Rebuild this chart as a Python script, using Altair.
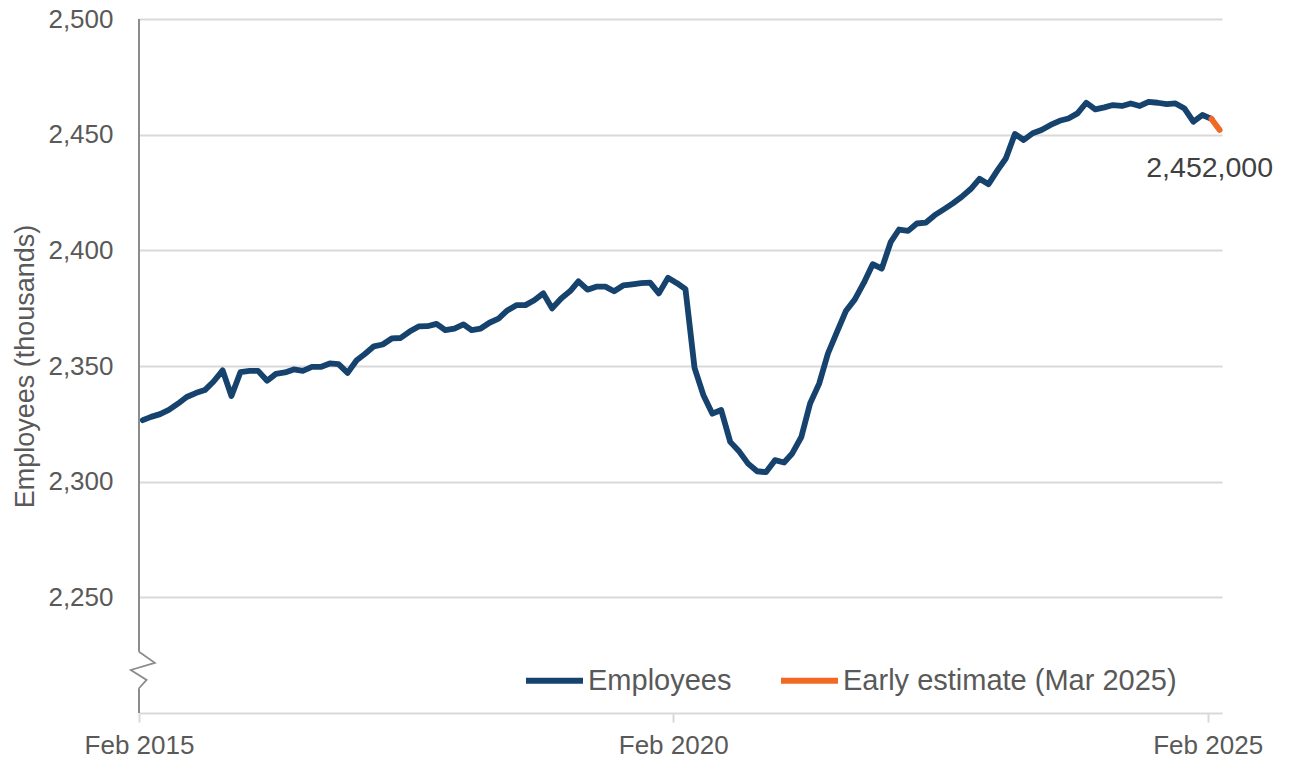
import altair as alt
import pandas as pd

# Monthly employees (thousands), Feb 2015 .. Feb 2025
employees = [
    2326.6, 2328.0, 2329.2, 2331.0, 2333.7, 2336.6, 2338.3, 2339.6, 2343.3, 2348.1,
    2337.0, 2347.4, 2347.9, 2347.9, 2343.6, 2346.6, 2347.2, 2348.5, 2347.9, 2349.6,
    2349.6, 2351.1, 2350.8, 2347.0, 2352.5, 2355.2, 2358.5, 2359.3, 2361.9, 2362.1,
    2364.9, 2367.1, 2367.2, 2368.2, 2365.5, 2366.2, 2368.0, 2365.5, 2366.2, 2368.7,
    2370.5, 2374.0, 2376.3, 2376.3, 2378.4, 2381.4, 2374.9, 2379.2, 2382.4, 2386.6,
    2383.0, 2384.3, 2384.3, 2382.3, 2384.8, 2385.3, 2385.8, 2386.0, 2381.4, 2388.1,
    2385.8, 2383.2, 2349.2, 2337.5, 2329.4, 2331.0, 2317.2, 2313.0, 2307.8, 2304.5,
    2304.1, 2309.3, 2308.3, 2312.2, 2319.3, 2333.8, 2342.4, 2355.4, 2364.8, 2373.9,
    2378.8, 2386.0, 2394.0, 2392.1, 2403.7, 2409.0, 2408.4, 2411.6, 2412.0, 2415.2,
    2417.7, 2420.3, 2423.1, 2426.5, 2430.9, 2428.6, 2434.7, 2439.7, 2450.3, 2447.7,
    2450.6, 2452.0, 2454.2, 2456.0, 2457.0, 2459.2, 2463.8, 2460.9, 2461.8, 2462.8,
    2462.4, 2463.5, 2462.4, 2464.2, 2463.8, 2463.2, 2463.5, 2461.3, 2455.6, 2458.5,
    2456.8,
]
early_estimate = 2452.0  # Mar 2025

series_names = ["Employees", "Early estimate (Mar 2025)"]
series_colors = ["#16426E", "#F06A25"]

y_ticks = [2250, 2300, 2350, 2400, 2450, 2500]
x_tick_dates = [(2015, 2), (2020, 2), (2025, 2)]

# y-axis break (zig-zag) drawn between the axis segments
break_day_offsets = [0, 54, -28, 26, 0]
break_values = [2226.5, 2221.7, 2218.6, 2214.3, 2210.7]

GRID = "#D9D9D9"
AXIS = "#8C8C8C"
TEXT = "#595959"
FONT = "Liberation Sans"


def month_date(i):
    ts = pd.Timestamp("2015-02-01") + pd.DateOffset(months=i) + pd.Timedelta(days=13)
    return ts.strftime("%Y-%m-%dT00:00:00Z")


rows = [{"date": month_date(i), "value": v, "series": series_names[0]}
        for i, v in enumerate(employees)]
n = len(employees)
rows.append({"date": month_date(n - 1), "value": employees[-1], "series": series_names[1]})
rows.append({"date": month_date(n), "value": early_estimate, "series": series_names[1]})
df = pd.DataFrame(rows)

label_df = pd.DataFrame([{"date": month_date(n), "value": early_estimate}])

base_day = pd.Timestamp("2015-02-01")
break_df = pd.DataFrame({
    "date": [(base_day + pd.Timedelta(days=d)).strftime("%Y-%m-%dT%H:%M:%SZ")
             for d in break_day_offsets],
    "value": break_values,
    "order": list(range(len(break_values))),
})
axis_df = pd.DataFrame({"value": [break_values[0], 2200.0],
                        "hi": [2500.0, break_values[-1]]})

x_scale = alt.Scale(
    type="utc",
    domain=[alt.DateTime(year=2015, month=2, date=1, utc=True),
            alt.DateTime(year=2025, month=3, date=22, utc=True)],
)
y_scale = alt.Scale(domain=[2200, 2500], zero=False, nice=False)

x_axis = alt.Axis(
    values=[alt.DateTime(year=y, month=m, date=1, utc=True) for y, m in x_tick_dates],
    labelExpr="utcFormat(datum.value, '%b %Y')", title=None, grid=False,
    domainColor=GRID, domainWidth=2, tickColor=GRID, tickWidth=2, tickSize=9,
    labelFontSize=26, labelColor=TEXT, labelPadding=10, labelFlush=False,
    labelOverlap=False, labelBound=False,
)
y_axis = alt.Axis(
    values=y_ticks, format=",.0f", formatType="number", title="Employees (thousands)",
    domain=False, ticks=False, tickSize=0, grid=True, gridColor=GRID, gridWidth=2,
    labelFontSize=26, labelColor=TEXT, labelPadding=26, labelFlush=False,
    titleFontSize=27, titleColor=TEXT, titleFontWeight="normal", titleAngle=270,
    titleX=-106, titleY=347, titleAlign="center", titleBaseline="alphabetic",
)

X = alt.X("date:T", scale=x_scale, axis=x_axis)
Y = alt.Y("value:Q", scale=y_scale, axis=y_axis)

lines = alt.Chart(df).mark_line(strokeWidth=5.8, strokeJoin="round", strokeCap="round").encode(
    x=X,
    y=Y,
    color=alt.Color(
        "series:N",
        scale=alt.Scale(domain=series_names, range=series_colors),
        sort=series_names,
        legend=alt.Legend(
            title=None, orient="none", legendX=384, legendY=630, direction="horizontal",
            symbolType="stroke", symbolSize=3249, symbolStrokeWidth=6,
            labelFontSize=29, labelColor=TEXT, labelOffset=2, labelLimit=600,
            columnPadding=37, padding=0,
        ),
    ),
    order=alt.Order("series:N"),
)

value_label = alt.Chart(label_df).transform_calculate(
    label="format(datum.value * 1000, ',')"
).mark_text(
    fontSize=28.5, color="#404040", align="center", baseline="alphabetic", dx=-10, dy=47
).encode(x=X, y=Y, text="label:N")

axis_line = alt.Chart(axis_df).mark_rule(color=AXIS, strokeWidth=2).encode(
    x=alt.value(0),
    y=Y,
    y2="hi:Q",
)

axis_break = alt.Chart(break_df).mark_line(color=AXIS, strokeWidth=1.8, clip=False).encode(
    x=X,
    y=Y,
    order="order:O",
)

chart = alt.layer(lines, value_label, axis_line, axis_break).properties(
    width=1083,
    height=694,
    autosize=alt.AutoSizeParams(type="none"),
    padding={"left": 139, "top": 19, "right": 68, "bottom": 47},
    background="white",
).configure(
    font=FONT,
    view=alt.ViewConfig(stroke="transparent", strokeWidth=0),
)

chart.save("out.html", embed_options={"renderer": "svg", "actions": False})
